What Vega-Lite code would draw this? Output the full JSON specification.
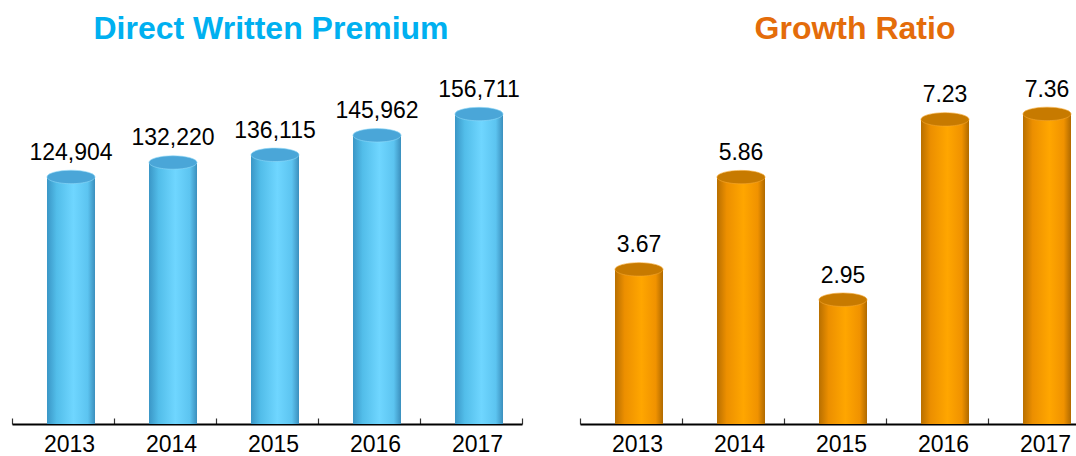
{
  "$schema": "https://vega.github.io/schema/vega-lite/v6.json",
  "padding": {"top": 13, "left": 11, "right": 0, "bottom": 0},
  "background": "white",
  "config": {
    "view": {"stroke": null},
    "font": "Liberation Sans",
    "title": {"font": "Liberation Sans", "fontWeight": "bold", "fontSize": 32, "anchor": "middle", "baseline": "alphabetic", "offset": 22}
  },
  "datasets": {
    "premium": [
      {"year": "2013", "value": 124904},
      {"year": "2014", "value": 132220},
      {"year": "2015", "value": 136115},
      {"year": "2016", "value": 145962},
      {"year": "2017", "value": 156711}
    ],
    "growth": [
      {"year": "2013", "value": 3.67},
      {"year": "2014", "value": 5.86},
      {"year": "2015", "value": 2.95},
      {"year": "2016", "value": 7.23},
      {"year": "2017", "value": 7.36}
    ]
  },
  "hconcat": [
    {
      "title": {"text": "Direct Written Premium", "color": "#00B0F0", "dx": 4},
      "width": 510,
      "height": 356,
      "data": {"name": "premium"},
      "encoding": {
        "x": {"field": "year", "type": "ordinal", "scale": {"paddingInner": 0, "paddingOuter": 0},
          "axis": {"title": null, "labelAngle": 0, "labelFontSize": 23, "labelColor": "#000000", "labelPadding": 15, "labelOffset": 6,
            "domainColor": "#000000", "domainWidth": 2, "tickColor": "#333333", "tickWidth": 1.2, "tickSize": -6, "tickBand": "extent"}},
        "y": {"field": "value", "type": "quantitative", "scale": {"domain": [0, 180000], "nice": false}, "axis": null}
      },
      "layer": [
        {"mark": {"type": "bar", "width": 48, "xOffset": 8,
          "fill": {"gradient": "linear", "x1": 0, "x2": 1, "y1": 0, "y2": 0,
            "stops": [{"offset": 0, "color": "#3a96c6"}, {"offset": 0.2, "color": "#52bde9"}, {"offset": 0.55, "color": "#6fd6ff"}, {"offset": 0.85, "color": "#5cc4f0"}, {"offset": 1, "color": "#3b8fbd"}]}}},
        {"mark": {"type": "point", "filled": true, "xOffset": 8, "size": 2304, "color": "#4aa6d8", "opacity": 1, "stroke": "#8ed8f8", "strokeWidth": 0.6,
          "shape": "M-1,0A1,0.28,0,1,1,1,0A1,0.28,0,1,1,-1,0Z"}},
        {"mark": {"type": "text", "dx": 8, "dy": -17, "baseline": "alphabetic", "fontSize": 23, "color": "#000000"},
          "encoding": {"text": {"field": "value", "type": "quantitative", "format": ","}}}
      ]
    },
    {
      "title": {"text": "Growth Ratio", "color": "#E46C0A", "dx": 20},
      "width": 510,
      "height": 356,
      "data": {"name": "growth"},
      "encoding": {
        "x": {"field": "year", "type": "ordinal", "scale": {"paddingInner": 0, "paddingOuter": 0},
          "axis": {"title": null, "labelAngle": 0, "labelFontSize": 23, "labelColor": "#000000", "labelPadding": 15, "labelOffset": 6,
            "domainColor": "#000000", "domainWidth": 2, "tickColor": "#333333", "tickWidth": 1.2, "tickSize": -6, "tickBand": "extent"}},
        "y": {"field": "value", "type": "quantitative", "scale": {"domain": [0, 8.45], "nice": false}, "axis": null}
      },
      "layer": [
        {"mark": {"type": "bar", "width": 48, "xOffset": 8,
          "fill": {"gradient": "linear", "x1": 0, "x2": 1, "y1": 0, "y2": 0,
            "stops": [{"offset": 0, "color": "#b86f00"}, {"offset": 0.2, "color": "#ec8f00"}, {"offset": 0.55, "color": "#ffa600"}, {"offset": 0.85, "color": "#f09200"}, {"offset": 1, "color": "#b06a00"}]}}},
        {"mark": {"type": "point", "filled": true, "xOffset": 8, "size": 2304, "color": "#c77a00", "opacity": 1, "stroke": "#f5a830", "strokeWidth": 0.6,
          "shape": "M-1,0A1,0.28,0,1,1,1,0A1,0.28,0,1,1,-1,0Z"}},
        {"mark": {"type": "text", "dx": 8, "dy": -17, "baseline": "alphabetic", "fontSize": 23, "color": "#000000"},
          "encoding": {"text": {"field": "value", "type": "quantitative", "format": ".2f"}}}
      ]
    }
  ],
  "spacing": 56
}
